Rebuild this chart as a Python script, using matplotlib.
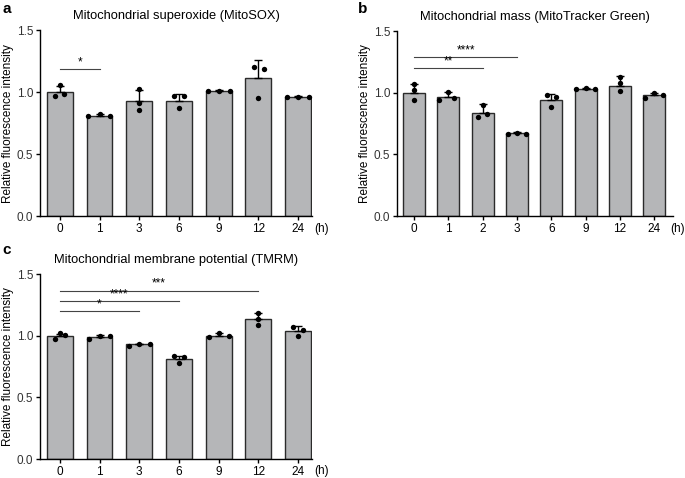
import numpy as np
import matplotlib
matplotlib.use("Agg")
import matplotlib.pyplot as plt

plt.rcParams["font.family"] = ["Liberation Sans", "DejaVu Sans"]

# === DATA ===
# panel a: MitoSOX
a_labels = ["0", "1", "3", "6", "9", "12", "24"]
a_means = [1.00, 0.81, 0.925, 0.93, 1.01, 1.115, 0.962]
a_err = [0.05, 0.01, 0.095, 0.055, 0.004, 0.145, 0.003]
a_points = [[1.059, 0.965, 0.981], [0.804, 0.820, 0.806], [1.027, 0.909, 0.852],
            [0.965, 0.965, 0.871], [1.005, 1.008, 1.005], [1.204, 1.188, 0.954],
            [0.960, 0.963, 0.960]]
a_sig = [(0, 1, 1.186, "*")]

# panel b: MitoTracker Green
b_labels = ["0", "1", "2", "3", "6", "9", "12", "24"]
b_means = [1.00, 0.962, 0.838, 0.672, 0.938, 1.033, 1.057, 0.978]
b_err = [0.073, 0.043, 0.067, 0.007, 0.051, 0.003, 0.078, 0.018]
b_points = [[1.073, 1.022, 0.943], [0.941, 1.003, 0.954], [0.800, 0.900, 0.827],
            [0.662, 0.676, 0.668], [0.984, 0.962, 0.886], [1.032, 1.037, 1.032],
            [1.130, 1.081, 1.014], [0.959, 0.995, 0.984]]
b_sig = [(0, 2, 1.20, "**"), (0, 3, 1.286, "****")]

# panel c: TMRM
c_labels = ["0", "1", "3", "6", "9", "12", "24"]
c_means = [0.997, 0.992, 0.93, 0.811, 1.0, 1.135, 1.035]
c_err = [0.02, 0.01, 0.006, 0.028, 0.018, 0.05, 0.04]
c_points = [[0.970, 1.019, 1.005], [0.973, 1.000, 0.995], [0.916, 0.935, 0.930],
            [0.838, 0.827, 0.778], [0.989, 1.022, 1.000], [1.186, 1.135, 1.089],
            [1.073, 1.046, 1.000]]
c_sig = [(0, 2, 1.20, "*"), (0, 3, 1.278, "****"), (0, 5, 1.365, "***")]

# horizontal spread of replicate dots (style only)
a_jit = [[0, -0.13, 0.11], [-0.28, 0, 0.26], [0, 0, 0], [-0.13, 0.13, 0],
         [-0.28, 0, 0.28], [-0.1, 0.13, 0], [-0.28, 0, 0.28]]
b_jit = [[0, 0, 0], [-0.27, 0, 0.15], [-0.13, 0, 0.13], [-0.27, 0, 0.27],
         [-0.13, 0.15, 0], [-0.27, 0, 0.27], [0, 0, 0], [-0.27, 0, 0.27]]
c_jit = [[-0.12, 0, 0.13], [-0.27, 0, 0.26], [-0.27, 0, 0.26], [-0.13, 0.12, 0],
         [-0.25, 0, 0.26], [0, 0, 0], [-0.12, 0.12, 0]]

BAR_COLOR = "#b5b6b8"


def draw_panel(ax, labels, means, err, points, jit, sig, title, width, xright, hx):
    x = np.arange(len(labels))
    ax.bar(x, means, width=width, color=BAR_COLOR, edgecolor="#2b2b2b", linewidth=1.0, zorder=1)
    ax.errorbar(x, means, yerr=[np.zeros(len(err)), err], fmt="none", ecolor="black",
                elinewidth=1.0, capsize=3, capthick=1.0, zorder=2)
    for i, (pts, js) in enumerate(zip(points, jit)):
        ax.scatter(i + np.array(js), pts, s=15, color="black", zorder=3, linewidths=0)
    for (i0, i1, y, stars) in sig:
        ax.plot([i0, i1], [y, y], color="#444444", lw=0.8)
        ax.text((i0 + i1) / 2, y + 0.008, stars, ha="center", va="bottom", fontsize=8.5)
    ax.set_xticks(x)
    ax.set_xticklabels(labels, fontsize=8.5)
    ax.set_xlim(-0.5, xright)
    ax.set_ylim(0, 1.5)
    ax.set_yticks([0, 0.5, 1.0, 1.5])
    ax.set_yticklabels(["0.0", "0.5", "1.0", "1.5"], fontsize=8.5, color="#333333")
    ax.set_ylabel("Relative fluorescence intensity", fontsize=8.5, labelpad=2)
    ax.set_title(title, fontsize=9.3, pad=8)
    for s in ["top", "right"]:
        ax.spines[s].set_visible(False)
    for s in ["left", "bottom"]:
        ax.spines[s].set_linewidth(1.0)
    ax.tick_params(direction="out", length=3, width=1.0, pad=2)
    ax.text(hx, -0.035, "(h)", transform=ax.transAxes, fontsize=8.5, va="top", ha="left")


fig = plt.figure(figsize=(6.85, 4.78), dpi=100)
ax_a = fig.add_axes([0.0584, 0.548, 0.397, 0.389])
ax_b = fig.add_axes([0.5796, 0.548, 0.403, 0.387])
ax_c = fig.add_axes([0.0584, 0.0397, 0.397, 0.387])

draw_panel(ax_a, a_labels, a_means, a_err, a_points, a_jit, a_sig,
           "Mitochondrial superoxide (MitoSOX)", 0.65, 6.35, 1.01)
draw_panel(ax_b, b_labels, b_means, b_err, b_points, b_jit, b_sig,
           "Mitochondrial mass (MitoTracker Green)", 0.64, 7.55, 0.99)
draw_panel(ax_c, c_labels, c_means, c_err, c_points, c_jit, c_sig,
           "Mitochondrial membrane potential (TMRM)", 0.65, 6.35, 1.01)

fig.text(0.004, 0.995, "a", fontsize=11, fontweight="bold", va="top", ha="left")
fig.text(0.522, 0.995, "b", fontsize=11, fontweight="bold", va="top", ha="left")
fig.text(0.004, 0.492, "c", fontsize=11, fontweight="bold", va="top", ha="left")

fig.savefig("out.png", dpi=100)
